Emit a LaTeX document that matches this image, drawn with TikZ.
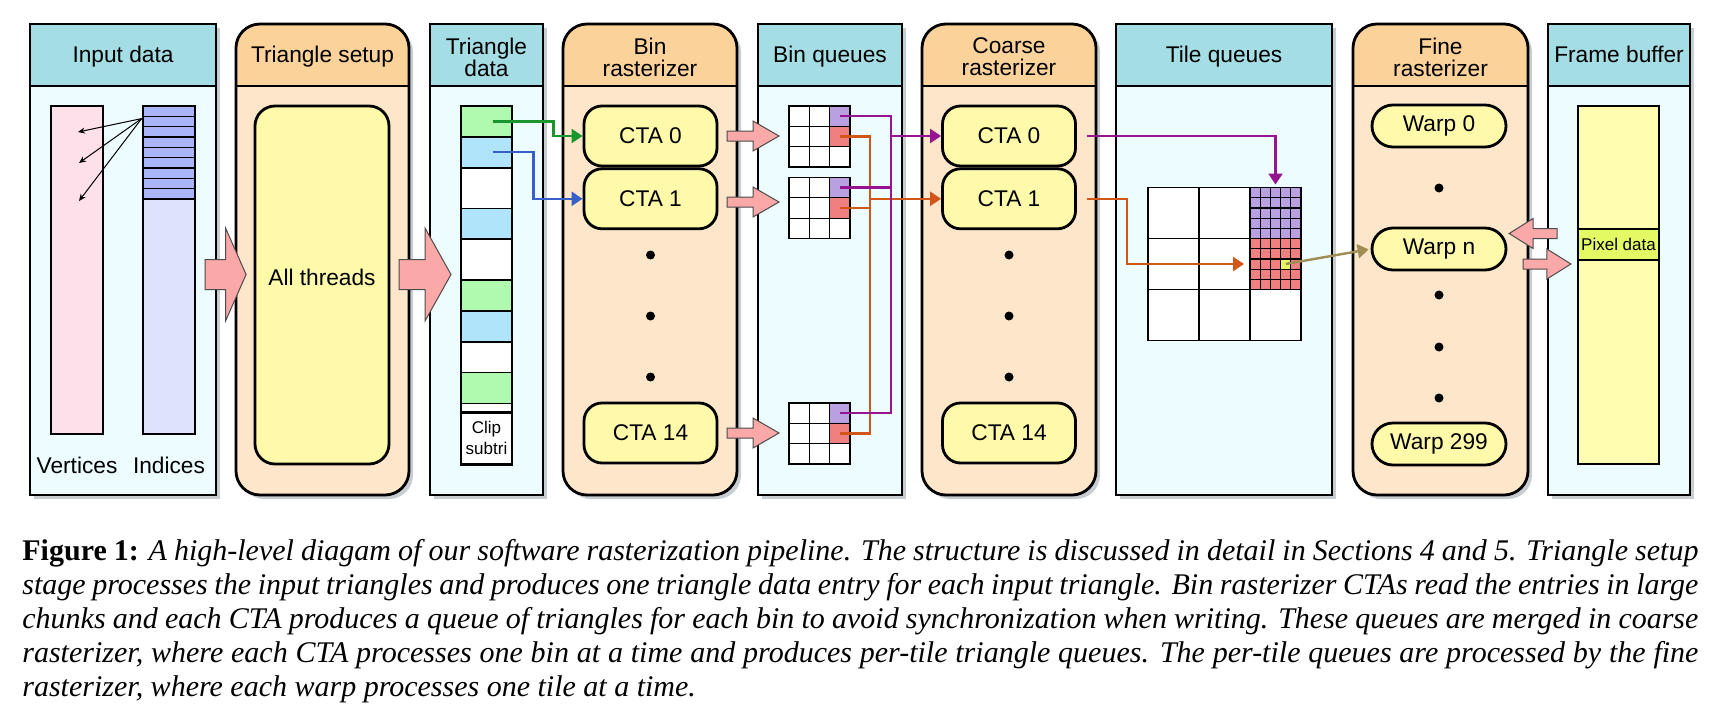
\documentclass[tikz,border=0pt]{standalone}
\usepackage{fontspec}
\setmainfont{Liberation Serif}
\setsansfont{Liberation Sans}
\usetikzlibrary{positioning,calc,shadows,arrows.meta}

\definecolor{hdrcyan}{RGB}{164,222,228}
\definecolor{bodycyan}{RGB}{236,252,255}
\definecolor{hdrorange}{RGB}{251,210,154}
\definecolor{bodyorange}{RGB}{253,230,202}
\definecolor{ctayellow}{RGB}{255,250,170}
\definecolor{vertpink}{RGB}{253,224,233}
\definecolor{idxblue}{RGB}{170,180,248}
\definecolor{idxpale}{RGB}{222,226,252}
\definecolor{trigreen}{RGB}{176,250,176}
\definecolor{triblue}{RGB}{175,228,250}
\definecolor{blockpink}{RGB}{250,168,168}
\definecolor{binpurple}{RGB}{185,160,225}
\definecolor{binred}{RGB}{240,128,128}
\definecolor{lnpurple}{RGB}{150,20,145}
\definecolor{lnorange}{RGB}{210,85,25}
\definecolor{lngreen}{RGB}{25,150,45}
\definecolor{lnblue}{RGB}{55,95,200}
\definecolor{lnbrown}{RGB}{160,140,85}
\definecolor{pixgreen}{RGB}{228,250,100}
\definecolor{fbyellow}{RGB}{255,253,176}
\definecolor{shadowgray}{RGB}{200,205,210}

\begin{document}
\begin{tikzpicture}[x=0.5pt, y=-0.5pt, font=\sffamily\fontsize{11.35}{11}\selectfont,
    colbox/.style 2 args={draw, line width=1.4pt, fill=#1,
      drop shadow={shadow xshift=2pt, shadow yshift=-2pt, fill=shadowgray, opacity=1},
      path picture={\fill[#2, sharp corners] (path picture bounding box.north west) rectangle ([yshift=-31pt]path picture bounding box.north east);
        \draw[line width=0.7pt, sharp corners] ([yshift=-31pt]path picture bounding box.north west) -- ([yshift=-31pt]path picture bounding box.north east);}},
    datacol/.style={colbox={bodycyan}{hdrcyan}},
    stagecol/.style={colbox={bodyorange}{hdrorange}, rounded corners=12pt},
    cells/.style={path picture={\pgfmathtruncatemacro\cellsm{#1-1}
      \foreach \k in {1,...,\cellsm} {
        \draw[line width=0.6pt] ($(path picture bounding box.north west)!\k/#1!(path picture bounding box.north east)$) -- ($(path picture bounding box.south west)!\k/#1!(path picture bounding box.south east)$)
          ($(path picture bounding box.north west)!\k/#1!(path picture bounding box.south west)$) -- ($(path picture bounding box.north east)!\k/#1!(path picture bounding box.south east)$);}}},
    cta/.style={draw, line width=1.4pt, fill=ctayellow, rounded corners=9pt, minimum width=66.5pt, minimum height=30pt, inner sep=0pt},
    warp/.style={cta, minimum width=67pt, minimum height=21pt, rounded corners=10.5pt},
    dot/.style={circle, fill=black, inner sep=0pt, minimum size=4.5pt},
    tcell/.style={draw, line width=0.8pt, minimum width=25.5pt, inner sep=0pt, outer sep=0pt},
    qcell/.style={draw, line width=0.6pt, minimum size=10.17pt, inner sep=0pt, outer sep=0pt},
    grid3/.style={draw, line width=0.7pt, fill=white, inner sep=0pt, outer sep=0pt, cells=3},
    qgrid/.style={grid3, minimum size=30.5pt},
    sub5/.style={qcell, minimum size=25.5pt, cells=5},
    small/.style={font=\sffamily\fontsize{8.5}{10.5}\selectfont},
    bus/.style={line width=1.2pt},
    link/.style={line width=1.2pt, -{Triangle[length=5.5pt,width=7pt]}},
    blockarr/.style={draw=black!70, line width=0.5pt, fill=blockpink},
    flow/.pic={\draw[blockarr] (0,-5) -- (26,-5) -- (26,-15) -- (52,0) -- (26,15) -- (26,5) -- (0,5) -- cycle;},
    bigflow/.pic={\draw[blockarr] (0,-15) -- (26,-15) -- (26,-46.5) -- (52,0) -- (26,46.5) -- (26,15) -- (0,15) -- cycle;}]

    \useasboundingbox (0,0) rectangle (1711,722);

    % stage columns
    \draw[datacol] (30,24) rectangle (216,495);
    \node[anchor=base] (tin) at (123,63) {Input data};
    \draw[stagecol] (236,24) rectangle (409,495);
    \node[anchor=base] (tsetup) at (322.5,63) {Triangle setup};
    \draw[datacol] (430,24) rectangle (543,495);
    \node[align=center] (tdata) at (486.5,57) {Triangle\\data};
    \draw[stagecol] (563,24) rectangle (737,495);
    \node[align=center] (tbin) at (650,57) {Bin\\rasterizer};
    \draw[datacol] (758,24) rectangle (902,495);
    \node[anchor=base] (tbq) at (830,63) {Bin queues};
    \draw[stagecol] (922,24) rectangle (1096,495);
    \node[align=center] (tcoarse) at (1009,57) {Coarse\\rasterizer};
    \draw[datacol] (1116,24) rectangle (1332,495);
    \node[anchor=base] (ttq) at (1224,63) {Tile queues};
    \draw[stagecol] (1353,24) rectangle (1528,495);
    \node[align=center] (tfine) at (1440.5,57) {Fine\\rasterizer};
    \draw[datacol] (1548,24) rectangle (1690,495);
    \node[anchor=base] (tfb) at (1619,63) {Frame buffer};

    % input data
    \node[draw, line width=1.4pt, fill=vertpink, minimum width=26pt, minimum height=164pt, inner sep=0pt] (vert) at (77,270) {};
    \node[draw, line width=1.4pt, fill=idxpale, minimum width=26pt, minimum height=164pt, inner sep=0pt,
      path picture={\fill[idxblue] (path picture bounding box.north west) rectangle ([yshift=-46.5pt]path picture bounding box.north east);
        \foreach \k in {1,...,9} \draw[line width=0.6pt] ([yshift=-\k*5.1667pt]path picture bounding box.north west) -- ([yshift=-\k*5.1667pt]path picture bounding box.north east);}] (idx) at (169,270) {};
    \node (lvert) at (77,465) {Vertices};
    \node (lidx) at (169,465) {Indices};
    \coordinate (ia) at ([yshift=-7pt]idx.north west);
    \coordinate (v1) at (78,132);
    \coordinate (v2) at (79,163);
    \coordinate (v3) at (79,201);
    \path[line width=0.5pt, -{Stealth[length=3.5pt,width=3pt]}]
        (ia) edge (v1)
        (ia) edge (v2)
        (ia) edge (v3);

    % triangle setup
    \node[draw, line width=1.4pt, fill=ctayellow, rounded corners=10pt, minimum width=67pt, minimum height=179pt] (allthr) at (322,285) {};
    \node (lall) at (322,277) {All threads};
    \pic[xscale=0.79] at (205,274.5) {bigflow};
    \pic at (399,274.5) {bigflow};

    % triangle data
    \node[tcell, fill=trigreen, minimum height=15.35pt] (t0) at (486.5,121.35) {};
    \node[tcell, fill=triblue, minimum height=15.5pt, below=0pt of t0] (t1) {};
    \node[tcell, fill=white, minimum height=20.3pt, below=0pt of t1] (t2) {};
    \node[tcell, fill=triblue, minimum height=15.35pt, below=0pt of t2] (t3) {};
    \node[tcell, fill=white, minimum height=20.5pt, below=0pt of t3] (t4) {};
    \node[tcell, fill=trigreen, minimum height=15.5pt, below=0pt of t4] (t5) {};
    \node[tcell, fill=triblue, minimum height=15.35pt, below=0pt of t5] (t6) {};
    \node[tcell, fill=white, minimum height=15.35pt, below=0pt of t6] (t7) {};
    \node[tcell, fill=trigreen, minimum height=15.5pt, below=0pt of t7] (t8) {};
    \node[tcell, fill=white, minimum height=4.5pt, below=0pt of t8] (t9) {};
    \node[tcell, small, fill=white, line width=1.4pt, minimum height=25.85pt, align=center, below=0pt of t9] (clip) {Clip\\subtri};
    \draw[line width=1.4pt] (t0.north west) rectangle (clip.south east);

    % bin rasterizer
    \node[cta] (b0) at (650.5,136) {CTA 0};
    \node[cta, below=0pt of b0] (b1) {CTA 1};
    \node[dot] (bd1) at (650.5,255) {};
    \node[dot] (bd2) at (650.5,316) {};
    \node[dot] (bd3) at (650.5,377) {};
    \node[cta] (b14) at (650.5,433) {CTA 14};
    \draw[link, lngreen] ([xshift=3pt]t0.center) -- ++(61,0) |- (b0.west);
    \draw[link, lnblue] ([xshift=3pt]t1.center) -- ++(41,0) |- (b1.west);
    \pic at (727,136) {flow};
    \pic at (727,202) {flow};
    \pic at (727,433) {flow};

    % bin queues
    \node[qgrid] (q0) at (819.5,136.5) {};
    \node[qgrid] (q1) at (819.5,208) {};
    \node[qgrid] (q14) at (819.5,433.5) {};
    \node[qcell, fill=binpurple, anchor=north east] (q0p) at (q0.north east) {};
    \node[qcell, fill=binred, below=0pt of q0p] (q0r) {};
    \node[qcell, fill=binpurple, anchor=north east] (q1p) at (q1.north east) {};
    \node[qcell, fill=binred, below=0pt of q1p] (q1r) {};
    \node[qcell, fill=binpurple, anchor=north east] (q14p) at (q14.north east) {};
    \node[qcell, fill=binred, below=0pt of q14p] (q14r) {};

    % coarse rasterizer
    \node[cta] (c0) at (1009,136) {CTA 0};
    \node[cta, below=0pt of c0] (c1) {CTA 1};
    \node[dot] (cd1) at (1009,255) {};
    \node[dot] (cd2) at (1009,316) {};
    \node[dot] (cd3) at (1009,377) {};
    \node[cta] (c14) at (1009,433) {CTA 14};

    \coordinate (obus) at (870,0);
    \coordinate (pbus) at (891,0);
    \draw[bus, lnorange] (q0r.center) -- (q0r.center -| obus) -- (q14r.center -| obus) -- (q14r.center);
    \draw[bus, lnorange] (q1r.center) -- (q1r.center -| obus);
    \draw[link, lnorange] (c1.west -| obus) -- (c1.west);
    \draw[bus, lnpurple] (q0p.center) -- (q0p.center -| pbus) -- (q14p.center -| pbus) -- (q14p.center);
    \draw[bus, lnpurple] (q1p.center) -- (q1p.center -| pbus);
    \draw[link, lnpurple] (c0.west -| pbus) -- (c0.west);

    % tile queues
    \node[grid3, minimum size=76.5pt] (tile) at (1224.5,264) {};
    \node[sub5, fill=binpurple, anchor=north east] (tp) at (tile.north east) {};
    \node[sub5, fill=binred, below=0pt of tp] (tr) {};
    \node[qcell, fill=pixgreen, minimum size=5.1pt] (px) at ([xshift=5.1pt]tr.center) {};
    \draw[link, lnpurple, shorten <=5pt, shorten >=1.5pt] (c0.east) -| (tp.north);
    \draw[link, lnorange, shorten <=5pt, shorten >=3pt] (c1.east) -- ++(50,0) |- (tr.west);

    % fine rasterizer
    \node[warp] (w0) at (1439,126) {Warp 0};
    \node[dot] (fd1) at (1439,188) {};
    \node[warp] (wn) at (1439,249) {Warp n};
    \node[dot] (fd2) at (1439,295) {};
    \node[dot] (fd3) at (1439,347) {};
    \node[dot] (fd4) at (1439,398) {};
    \node[warp] (w299) at (1439,444) {Warp 299};
    \draw[link, lnbrown, shorten >=1pt] (px.center) -- (wn.west);

    % frame buffer
    \node[draw, line width=1.4pt, fill=fbyellow, minimum width=40.5pt, minimum height=179pt, inner sep=0pt,
      path picture={\fill[pixgreen] ([yshift=-61.5pt]path picture bounding box.north west) rectangle ([yshift=-77pt]path picture bounding box.north east);
        \draw[line width=0.6pt] ([yshift=-61.5pt]path picture bounding box.north west) -- ([yshift=-61.5pt]path picture bounding box.north east)
          ([yshift=-77pt]path picture bounding box.north west) -- ([yshift=-77pt]path picture bounding box.north east);}] (fb) at (1618.5,285) {};
    \node[small] (pix) at (1618.5,244.5) {Pixel data};
    \pic[xscale=-0.92] at (1557,233.5) {flow};
    \pic[xscale=0.92] at (1523,264) {flow};

    % caption
    \node[anchor=north west, inner sep=0pt, align=left, font=\rmfamily\itshape\fontsize{15}{17}\selectfont] (cap) at (22,539) {%
      \makebox[838pt][s]{\textbf{\upshape Figure 1:} A high-level diagam of our software rasterization pipeline. The structure is discussed in detail in Sections 4 and 5. Triangle setup}\\
      \makebox[838pt][s]{stage processes the input triangles and produces one triangle data entry for each input triangle. Bin rasterizer CTAs read the entries in large}\\
      \makebox[838pt][s]{chunks and each CTA produces a queue of triangles for each bin to avoid synchronization when writing. These queues are merged in coarse}\\
      \makebox[838pt][s]{rasterizer, where each CTA processes one bin at a time and produces per-tile triangle queues. The per-tile queues are processed by the fine}\\
      rasterizer, where each warp processes one tile at a time.};
\end{tikzpicture}
\end{document}
